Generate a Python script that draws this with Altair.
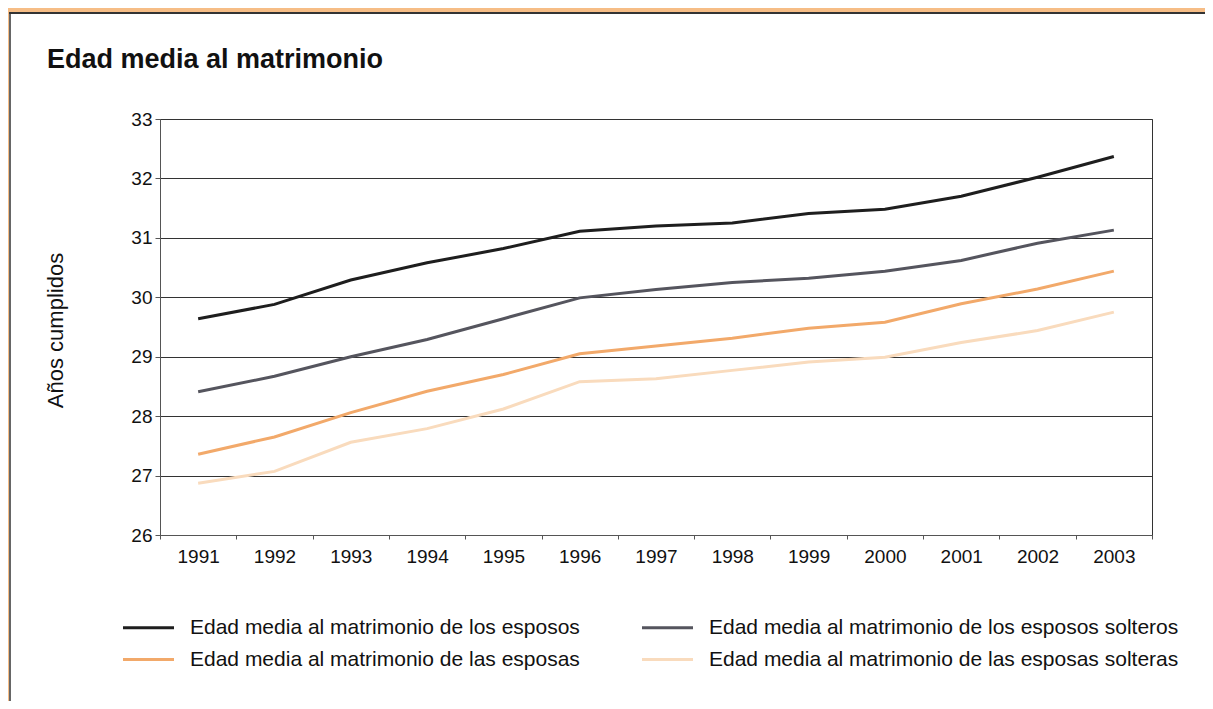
import altair as alt
import pandas as pd

years = [1991, 1992, 1993, 1994, 1995, 1996, 1997, 1998, 1999, 2000, 2001, 2002, 2003]
esposos = [29.64, 29.88, 30.29, 30.58, 30.82, 31.11, 31.20, 31.25, 31.41, 31.48, 31.70, 32.02, 32.37]
esposos_solteros = [28.41, 28.67, 29.00, 29.29, 29.64, 29.99, 30.13, 30.25, 30.32, 30.44, 30.62, 30.91, 31.13]
esposas = [27.36, 27.65, 28.06, 28.42, 28.70, 29.05, 29.18, 29.31, 29.48, 29.58, 29.89, 30.14, 30.44]
esposas_solteras = [26.87, 27.07, 27.56, 27.79, 28.12, 28.58, 28.63, 28.77, 28.91, 28.99, 29.24, 29.44, 29.75]

series_names = [
    "Edad media al matrimonio de los esposos",
    "Edad media al matrimonio de los esposos solteros",
    "Edad media al matrimonio de las esposas",
    "Edad media al matrimonio de las esposas solteras",
]
series_colors = ["#1e1e1e", "#55555e", "#f2a96a", "#f9dbbd"]
y_ticks = [26, 27, 28, 29, 30, 31, 32, 33]
title_text = "Edad media al matrimonio"

rows = []
for name, vals in zip(series_names, [esposos, esposos_solteros, esposas, esposas_solteras]):
    for yr, v in zip(years, vals):
        rows.append({"Año": str(yr), "Serie": name, "Valor": v})
df = pd.DataFrame(rows)

FONT = "Liberation Sans"
one = alt.Data(values=[{}])

# decorative orange frame strip of the scanned page
frame = alt.Chart(one).mark_rect(color="#f6bd86").encode(
    x=alt.value(-152), x2=alt.value(1100), y=alt.value(-111), y2=alt.value(-107)
)
frame_left = alt.Chart(one).mark_rect(color="#f6bd86").encode(
    x=alt.value(-152), x2=alt.value(-151), y=alt.value(-111), y2=alt.value(700)
)
frame_line = alt.Chart(one).mark_rule(color="#333333", strokeWidth=2).encode(
    x=alt.value(-151), x2=alt.value(1100), y=alt.value(-106)
)
frame_line_left = alt.Chart(one).mark_rule(color="#333333", strokeWidth=1.5).encode(
    x=alt.value(-150), y=alt.value(-106), y2=alt.value(700)
)

title = alt.Chart(one).mark_text(
    align="left", baseline="alphabetic", font=FONT, fontSize=27,
    fontWeight="bold", color="#111111",
).encode(x=alt.value(-113), y=alt.value(-51), text=alt.value(title_text))

lines = alt.Chart(df).mark_line(strokeWidth=3).encode(
    x=alt.X(
        "Año:O",
        bandPosition=0.5,
        scale=alt.Scale(type="band", paddingInner=0, paddingOuter=0),
        axis=alt.Axis(
            title=None,
            labelAngle=0,
            tickBand="extent",
            grid=False,
            domainColor="#555555",
            tickColor="#555555",
            tickSize=4,
            labelPadding=8,
            labelFontSize=19,
            labelColor="#111111",
            labelFont=FONT,
        ),
    ),
    y=alt.Y(
        "Valor:Q",
        scale=alt.Scale(domain=[26, 33], nice=False, zero=False),
        axis=alt.Axis(
            title="Años cumplidos",
            values=y_ticks,
            format="d",
            grid=True,
            gridColor="#333333",
            gridWidth=1,
            domainColor="#555555",
            tickColor="#555555",
            tickSize=5,
            labelPadding=3,
            labelFontSize=19,
            labelColor="#111111",
            labelFont=FONT,
            titleFont=FONT,
            titleFontSize=22,
            titleFontWeight="normal",
            titleColor="#111111",
            titleX=-105,
            titleY=211,
            titleAngle=270,
            titleAlign="center",
            titleBaseline="middle",
        ),
    ),
    color=alt.Color(
        "Serie:N",
        scale=alt.Scale(domain=series_names, range=series_colors),
        sort=series_names,
        legend=alt.Legend(
            title=None,
            orient="none",
            legendX=-22,
            legendY=498,
            columns=2,
            direction="horizontal",
            symbolType="M-3,0H3",
            symbolSize=289,
            symbolStrokeWidth=3,
            labelFontSize=21,
            labelFont=FONT,
            labelColor="#111111",
            labelOffset=31,
            labelLimit=600,
            columnPadding=56,
            rowPadding=10,
        ),
    ),
)

chart = alt.layer(frame, frame_left, frame_line, frame_line_left, title, lines).properties(
    width=992,
    height=416,
    autosize=alt.AutoSizeParams(type="none"),
    padding={"left": 152, "top": 111, "right": 53, "bottom": 166},
    background="white",
).configure_view(stroke="#333333", strokeWidth=1)

chart.save("out.html", embed_options={"renderer": "svg", "actions": False})
